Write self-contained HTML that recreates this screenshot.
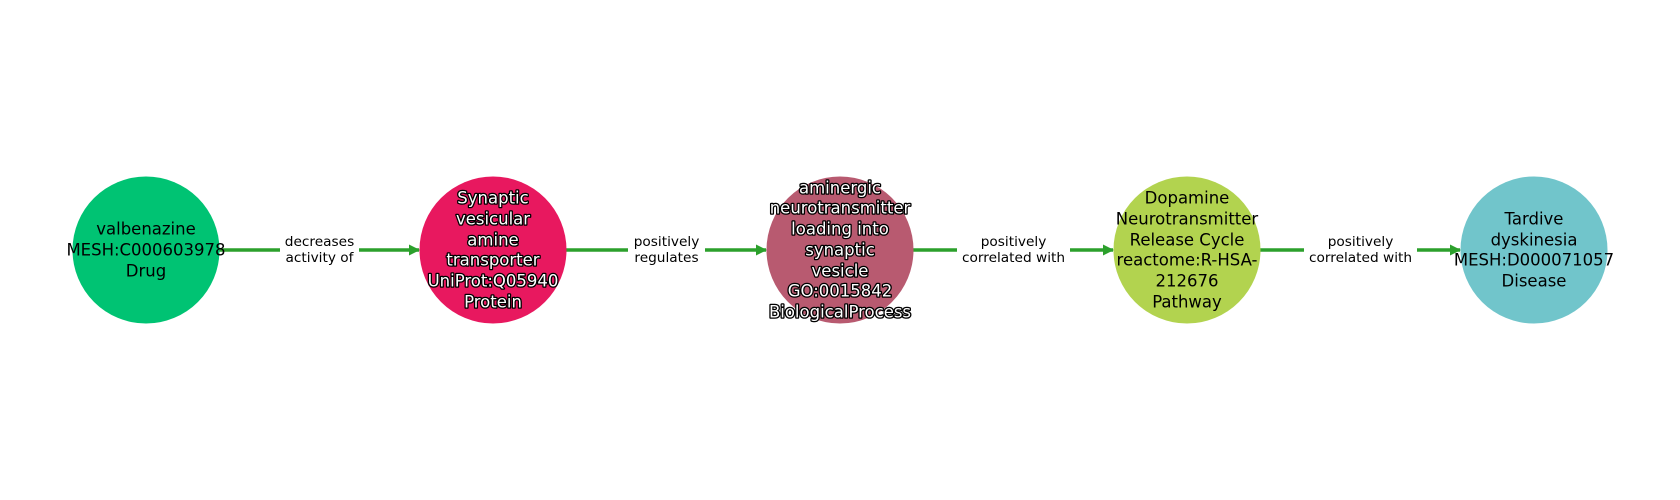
<!DOCTYPE html>
<html><head><meta charset="utf-8"><style>
html,body{margin:0;padding:0;background:#fff;}
svg{display:block;}
.n{font-family:"DejaVu Sans","Liberation Sans",sans-serif;font-size:16.5px;text-anchor:middle;fill:#000;}
.w{fill:#fff;stroke:#000;stroke-width:2.6px;paint-order:stroke;stroke-linejoin:round;}
.e{font-family:"DejaVu Sans","Liberation Sans",sans-serif;font-size:13.7px;text-anchor:middle;fill:#000;}
</style></head><body>
<svg width="1680" height="500" viewBox="0 0 1680 500" xmlns="http://www.w3.org/2000/svg">
<defs><marker id="a" markerWidth="12" markerHeight="12" refX="10" refY="6" orient="auto" markerUnits="userSpaceOnUse">
<path d="M0,0.5 L11,6 L0,11.5 z" fill="#2ca02c"/></marker></defs>
<g stroke="#2ca02c" stroke-width="3.4" fill="none" marker-end="url(#a)">
<line x1="219" y1="250" x2="419" y2="250"/>
<line x1="566" y1="250" x2="766" y2="250"/>
<line x1="913" y1="250" x2="1113" y2="250"/>
<line x1="1260" y1="250" x2="1460" y2="250"/>
</g>
<g fill="#fff">
<rect x="280" y="232" width="79" height="36"/>
<rect x="628" y="232" width="77" height="36"/>
<rect x="957" y="232" width="113" height="36"/>
<rect x="1304" y="232" width="113" height="36"/>
</g>
<g class="e">
<text x="319.5" y="246">decreases</text><text x="319.5" y="262">activity of</text>
<text x="666.5" y="246">positively</text><text x="666.5" y="262">regulates</text>
<text x="1013.5" y="246">positively</text><text x="1013.5" y="262">correlated with</text>
<text x="1360.5" y="246">positively</text><text x="1360.5" y="262">correlated with</text>
</g>
<circle cx="146" cy="250" r="73.5" fill="#00c373"/>
<circle cx="493" cy="250" r="73.5" fill="#e8185f"/>
<circle cx="840" cy="250" r="73.5" fill="#b85a70"/>
<circle cx="1187" cy="250" r="73.5" fill="#b2d34f"/>
<circle cx="1534" cy="250" r="73.5" fill="#71c5cb"/>
<g class="n">
<text x="146" y="234.5">valbenazine</text><text x="146" y="255.5">MESH:C000603978</text><text x="146" y="276.5">Drug</text>
</g>
<g class="n w">
<text x="493" y="203.5">Synaptic</text><text x="493" y="224.5">vesicular</text><text x="493" y="245.5">amine</text><text x="493" y="265.5">transporter</text><text x="493" y="286.5">UniProt:Q05940</text><text x="493" y="307.5">Protein</text>
<text x="840" y="193.5">aminergic</text><text x="840" y="213.5">neurotransmitter</text><text x="840" y="234.5">loading into</text><text x="840" y="255.5">synaptic</text><text x="840" y="276.5">vesicle</text><text x="840" y="296.5">GO:0015842</text><text x="840" y="317.5">BiologicalProcess</text>
</g>
<g class="n">
<text x="1187" y="203.5">Dopamine</text><text x="1187" y="224.5">Neurotransmitter</text><text x="1187" y="245.5">Release Cycle</text><text x="1187" y="265.5">reactome:R-HSA-</text><text x="1187" y="286.5">212676</text><text x="1187" y="307.5">Pathway</text>
<text x="1534" y="224.5">Tardive</text><text x="1534" y="245.5">dyskinesia</text><text x="1534" y="265.5">MESH:D000071057</text><text x="1534" y="286.5">Disease</text>
</g>
</svg>
</body></html>
